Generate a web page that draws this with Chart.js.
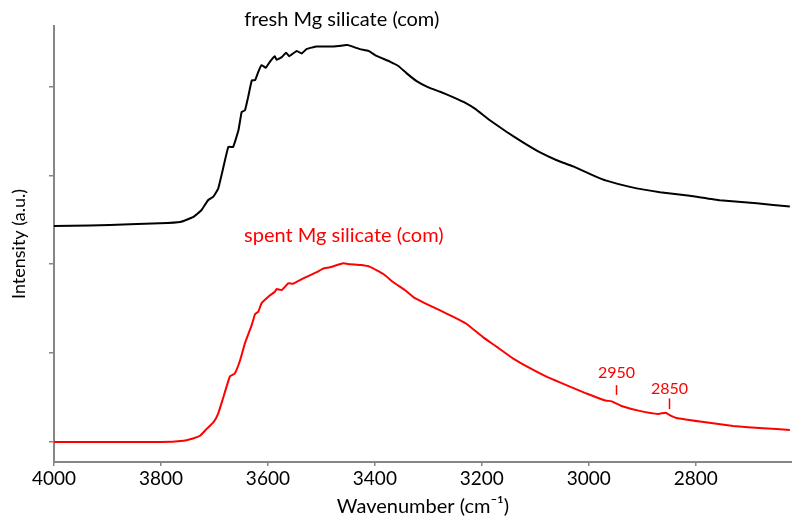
<!DOCTYPE html>
<html>
<head>
<meta charset="utf-8">
<script src="https://cdn.jsdelivr.net/npm/chart.js@4/dist/chart.umd.min.js"></script>
<style>
    html, body { margin: 0; padding: 0; background: #fff; }
    #wrap { width: 792px; height: 519px; position: relative; }
</style>
</head>
<body>
<div id="wrap"><canvas id="ir-chart"></canvas></div>
<script>
// wavenumbers (cm-1) and intensities (a.u.)
const freshWn = [4000, 3933, 3858, 3802, 3764, 3740, 3724, 3712, 3702, 3693, 3686, 3674, 3665, 3655, 3649, 3643, 3637, 3630, 3624, 3618, 3612, 3604, 3596, 3587, 3584, 3574, 3566, 3560, 3546, 3537, 3528, 3509, 3478, 3453, 3450, 3428, 3412, 3397, 3372, 3356, 3341, 3322, 3300, 3278, 3254, 3229, 3213, 3185, 3154, 3123, 3092, 3060, 3029, 2992, 2967, 2923, 2867, 2811, 2755, 2686, 2624];
const freshVal = [2.43, 2.435, 2.45, 2.46, 2.475, 2.53, 2.61, 2.72, 2.76, 2.85, 3.02, 3.32, 3.32, 3.51, 3.715, 3.73, 3.88, 4.07, 4.07, 4.165, 4.24, 4.21, 4.28, 4.34, 4.30, 4.33, 4.38, 4.34, 4.40, 4.37, 4.42, 4.45, 4.45, 4.465, 4.465, 4.42, 4.40, 4.345, 4.28, 4.23, 4.15, 4.06, 3.99, 3.94, 3.88, 3.81, 3.75, 3.62, 3.49, 3.37, 3.26, 3.17, 3.10, 3.00, 2.94, 2.87, 2.81, 2.77, 2.72, 2.685, 2.65];

const spentWn = [4000, 3900, 3802, 3758, 3740, 3727, 3715, 3702, 3693, 3684, 3671, 3662, 3652, 3643, 3630, 3624, 3618, 3612, 3596, 3587, 3584, 3574, 3562, 3553, 3534, 3509, 3497, 3484, 3459, 3447, 3425, 3409, 3384, 3366, 3344, 3328, 3306, 3278, 3254, 3229, 3198, 3172, 3142, 3110, 3079, 3042, 3004, 2980, 2967, 2958, 2951, 2939, 2905, 2870, 2856, 2848, 2836, 2792, 2730, 2674, 2624];
const spentVal = [0, 0, 0.00, 0.015, 0.04, 0.07, 0.145, 0.22, 0.32, 0.49, 0.74, 0.77, 0.92, 1.11, 1.32, 1.44, 1.465, 1.56, 1.65, 1.69, 1.72, 1.71, 1.785, 1.78, 1.84, 1.91, 1.95, 1.965, 2.01, 2.00, 1.99, 1.97, 1.89, 1.80, 1.71, 1.63, 1.56, 1.48, 1.41, 1.33, 1.18, 1.07, 0.94, 0.83, 0.735, 0.64, 0.545, 0.49, 0.465, 0.46, 0.44, 0.405, 0.35, 0.315, 0.33, 0.30, 0.27, 0.23, 0.18, 0.155, 0.135];

const xTicks = [4000, 3800, 3600, 3400, 3200, 3000, 2800];
const yTicks = [0, 1, 2, 3, 4];

// text labels on the plot: [text, wavenumber, intensity, colour]
const seriesLabels = [
    ['fresh Mg silicate (com)', 3462, 4.75, '#000000'],
    ['spent Mg silicate (com)', 3458, 2.32, '#ff0000']
];
// band markers: [label, wavenumber, text level, line top, line bottom]
const bandMarks = [
    ['2950', 2950, 0.78, 0.64, 0.53],
    ['2850', 2850, 0.60, 0.49, 0.37]
];

const FONT = 'Lato, "Open Sans", sans-serif';
const AXIS_GREY = '#868686';

function toPoints(xs, ys) {
    return xs.map((x, i) => ({ x: x, y: ys[i] }));
}

const labelPlugin = {
    id: 'labelPlugin',
    afterDatasetsDraw(chart) {
        const ctx = chart.ctx;
        const x = chart.scales.x;
        const y = chart.scales.y;
        ctx.save();
        ctx.textAlign = 'center';
        ctx.textBaseline = 'middle';
        ctx.font = '20px ' + FONT;
        seriesLabels.forEach(([text, wn, val, color]) => {
            ctx.fillStyle = color;
            ctx.fillText(text, x.getPixelForValue(wn), y.getPixelForValue(val));
        });
        ctx.font = '16px ' + FONT;
        ctx.strokeStyle = '#ff0000';
        ctx.fillStyle = '#ff0000';
        ctx.lineWidth = 1.5;
        bandMarks.forEach(([text, wn, tv, top, bottom]) => {
            const px = Math.round(x.getPixelForValue(wn)) + 0.5;
            ctx.fillText(text, px, y.getPixelForValue(tv));
            ctx.beginPath();
            ctx.moveTo(px, y.getPixelForValue(top));
            ctx.lineTo(px, y.getPixelForValue(bottom));
            ctx.stroke();
        });
        ctx.restore();
    }
};

const chart = new Chart(document.getElementById('ir-chart').getContext('2d'), {
    type: 'line',
    data: {
        datasets: [{
            label: 'fresh Mg silicate (com)',
            data: toPoints(freshWn, freshVal),
            borderColor: '#000000',
            borderWidth: 2,
            pointRadius: 0,
            tension: 0.1,
            fill: false
        }, {
            label: 'spent Mg silicate (com)',
            data: toPoints(spentWn, spentVal),
            borderColor: '#ff0000',
            borderWidth: 2,
            pointRadius: 0,
            tension: 0.1,
            fill: false
        }]
    },
    options: {
        responsive: true,
        maintainAspectRatio: false,
        animation: false,
        layout: { padding: { top: 26, right: 0, left: 0, bottom: 0 } },
        plugins: {
            legend: { display: false },
            tooltip: { enabled: false }
        },
        scales: {
            x: {
                type: 'linear',
                reverse: true,
                min: 2620,
                max: 4000,
                afterBuildTicks: scale => { scale.ticks = xTicks.map(v => ({ value: v })); },
                afterFit: scale => { scale.height = 57; },
                ticks: {
                    color: '#000',
                    font: { family: FONT, size: 19 },
                    padding: 1,
                    maxRotation: 0,
                    callback: v => String(v)
                },
                grid: {
                    drawOnChartArea: false,
                    drawTicks: true,
                    tickLength: 4,
                    color: AXIS_GREY,
                    lineWidth: 1.5
                },
                border: { display: true, color: AXIS_GREY, width: 2 },
                title: {
                    display: true,
                    text: 'Wavenumber (cm\u207B\u00B9)',
                    color: '#000',
                    font: { family: FONT, size: 20 },
                    padding: { top: 0, bottom: 0 }
                }
            },
            y: {
                min: -0.225,
                max: 4.68,
                afterBuildTicks: scale => { scale.ticks = yTicks.map(v => ({ value: v })); },
                afterFit: scale => { scale.width = 54; },
                ticks: { display: false },
                grid: {
                    drawOnChartArea: false,
                    drawTicks: true,
                    tickLength: 5,
                    color: AXIS_GREY,
                    lineWidth: 1.5
                },
                border: { display: true, color: AXIS_GREY, width: 2 },
                title: {
                    display: true,
                    text: 'Intensity (a.u.)',
                    color: '#000',
                    font: { family: FONT, size: 18 },
                    padding: { top: 8, bottom: 0 }
                }
            }
        }
    },
    plugins: [labelPlugin]
});
</script>
</body>
</html>
